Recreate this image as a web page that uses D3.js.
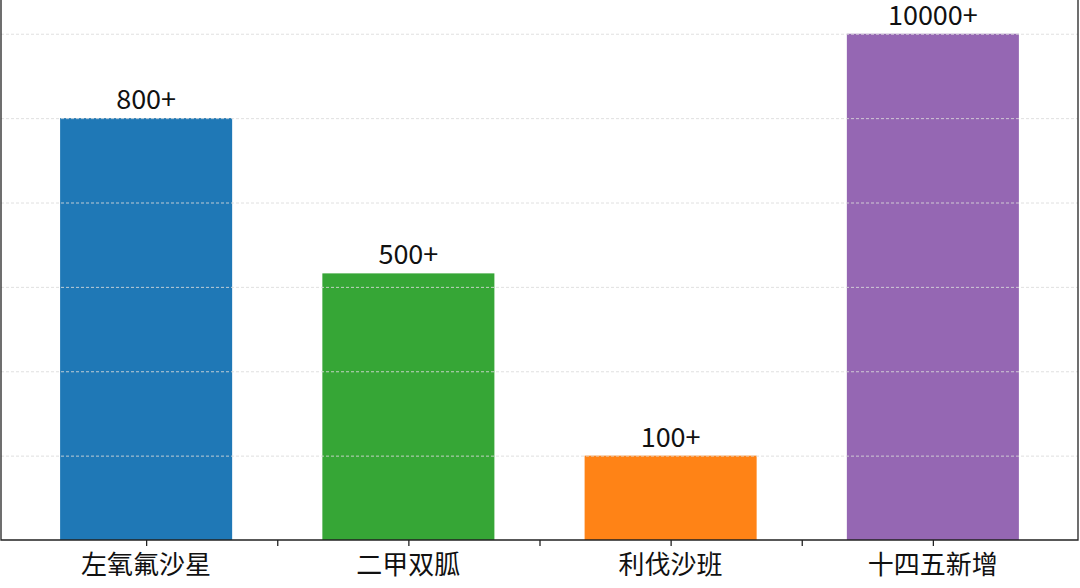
<!DOCTYPE html>
<html>
<head>
<meta charset="utf-8">
<script src="https://cdn.jsdelivr.net/npm/d3@7"></script>
<style>
  body { margin: 0; background: #fff; }
  .bar_label { font-family: "Noto Sans CJK SC", "Noto Sans", sans-serif; font-size: 27px; fill: #111; text-anchor: middle; }
  .cat_label { font-family: "Noto Sans CJK SC", sans-serif; font-size: 26px; fill: #111; text-anchor: middle; }
</style>
</head>
<body>
<div id="bar"></div>
<script>
var categories = ["左氧氟沙星", "二甲双胍", "利伐沙班", "十四五新增"];
var values = [5.0, 3.16, 1.0, 6.0];
var valueLabels = ["800+", "500+", "100+", "10000+"];
var colors = ["#1f78b6", "#36a636", "#ff8316", "#9567b3"];
var gridTicks = [1, 2, 3, 4, 5, 6];
var xTicks = [0, 0.5, 1, 1.5, 2, 2.5, 3];

var width = 1080, height = 588;
var plot = {left: 1, right: 1078, top: 0, bottom: 540};
var barWidth = 0.656;

var svg = d3.select("#bar").append("svg")
  .attr("width", width)
  .attr("height", height);

var x = d3.scaleLinear()
  .domain([-0.5534, 3.5534])
  .range([plot.left, plot.right]);

var y = d3.scaleLinear()
  .domain([0, 6.4])
  .range([plot.bottom, plot.top]);

// bars
svg.selectAll(".bar")
  .data(values)
  .enter().append("rect")
  .attr("class", "bar")
  .attr("x", function (d, i) { return x(i - barWidth / 2); })
  .attr("y", function (d) { return y(d); })
  .attr("width", x(barWidth) - x(0))
  .attr("height", function (d) { return y(0) - y(d); })
  .attr("fill", function (d, i) { return colors[i]; });

// dashed grid, drawn over the bars
svg.append("g")
  .attr("transform", "translate(" + plot.left + ",0)")
  .call(d3.axisLeft(y).tickValues(gridTicks).tickSize(-(plot.right - plot.left)).tickFormat(""))
  .call(function (g) { g.select(".domain").remove(); })
  .selectAll("line")
  .attr("stroke", "#dadada")
  .attr("stroke-opacity", 0.85)
  .attr("stroke-dasharray", "3,2");

// value labels
svg.selectAll(".bar_label")
  .data(values)
  .enter().append("text")
  .attr("class", "bar_label")
  .attr("x", function (d, i) { return x(i); })
  .attr("y", function (d) { return y(d) - 9; })
  .text(function (d, i) { return valueLabels[i]; });

// x axis
var xAxis = d3.axisBottom(x)
  .tickValues(xTicks)
  .tickSize(6)
  .tickFormat("");

var gx = svg.append("g")
  .attr("transform", "translate(0," + plot.bottom + ")")
  .call(xAxis);
gx.select(".domain").remove();
gx.selectAll("line").attr("stroke", "#222").attr("stroke-width", 1.3);

svg.selectAll(".cat_label")
  .data(categories)
  .enter().append("text")
  .attr("class", "cat_label")
  .attr("x", function (d, i) { return x(i); })
  .attr("y", plot.bottom + 34)
  .text(function (d) { return d; });

// spines
svg.append("path")
  .attr("d", "M" + plot.left + "," + plot.top + "V" + plot.bottom + "H" + plot.right + "V" + plot.top)
  .attr("fill", "none")
  .attr("stroke", "#222")
  .attr("stroke-width", 1.3);
</script>
</body>
</html>
